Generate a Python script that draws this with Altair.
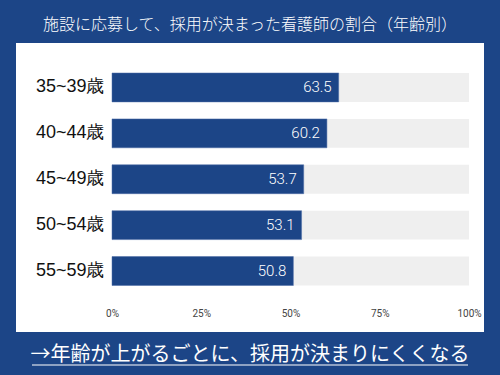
import altair as alt
import pandas as pd

categories = ["35~39歳", "40~44歳", "45~49歳", "50~54歳", "55~59歳"]
values = [63.5, 60.2, 53.7, 53.1, 50.8]
full = [100, 100, 100, 100, 100]
title_text = "施設に応募して、採用が決まった看護師の割合（年齢別）"
note_text = "→年齢が上がるごとに、採用が決まりにくくなる"

BLUE = "#1c4587"
df = pd.DataFrame({"cat": categories, "value": values, "full": full})

x_scale = alt.Scale(domain=[0, 100], range=[96, 453], nice=False)
y_scale = alt.Scale(domain=categories, range=[21.5, 251], paddingInner=0.37, paddingOuter=0.185)

base = alt.Chart(df)

track = base.mark_bar(color="#efefef").encode(
    x=alt.X("full:Q", scale=x_scale,
            axis=alt.Axis(values=[0, 25, 50, 75, 100], labelExpr="datum.value + '%'",
                          domain=False, ticks=False, grid=False, offset=-28,
                          labelFlush=False, labelBound=False,
                          labelFont="Roboto", labelFontSize=10, labelColor="#444444",
                          title=None, labelPadding=4)),
    x2=alt.X2("zero:Q"),
    y=alt.Y("cat:N", scale=y_scale,
            axis=alt.Axis(domain=False, ticks=False, grid=False, offset=-88, labelPadding=0,
                          labelFont="Liberation Sans", labelFontSize=18,
                          labelColor="#111111", title=None)),
).transform_calculate(zero="0")

bars = base.mark_bar(color=BLUE, stroke="#4f6fa8", strokeWidth=0.5).encode(
    x=alt.X("value:Q", scale=x_scale),
    x2=alt.X2("zero:Q"),
    y=alt.Y("cat:N", scale=y_scale),
).transform_calculate(zero="0")

labels = base.mark_text(align="right", baseline="middle", dx=-7, color="white",
                        font="Roboto", fontSize=15, fontWeight=300).encode(
    x=alt.X("value:Q", scale=x_scale),
    y=alt.Y("cat:N", scale=y_scale),
    text=alt.Text("value:Q", format=".1f"),
)

note = alt.Chart(pd.DataFrame({"t": [note_text]})).mark_text(
    align="center", baseline="middle", color="white", font="Noto Sans CJK JP", fontSize=20
).encode(x=alt.value(234), y=alt.value(312), text="t:N")

underline = alt.Chart(pd.DataFrame({"t": [note_text]})).mark_rule(
    color="white", strokeWidth=1.2
).encode(x=alt.value(16), x2=alt.value(452), y=alt.value(322))

chart = alt.layer(track, bars, labels, note, underline).properties(
    width=468, height=289,
    title=alt.TitleParams(title_text, color="white", fontSize=16, font="Noto Sans CJK JP",
                          fontWeight=300, anchor="middle", offset=10),
    background=BLUE,
    padding={"left": 16, "top": 43, "right": 16, "bottom": 43},
    autosize=alt.AutoSizeParams(type="none"),
).configure_view(fill="white", stroke=None)

chart.save("out.html", embed_options={"renderer": "svg", "actions": False})
